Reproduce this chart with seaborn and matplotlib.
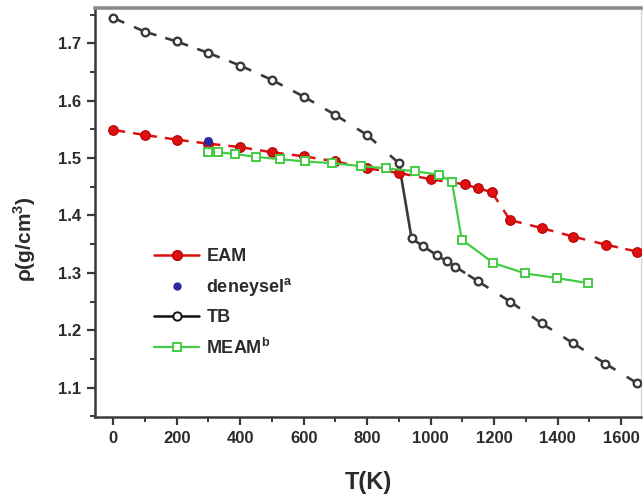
import numpy as np
import pandas as pd
import seaborn as sns
import matplotlib
matplotlib.use("Agg")
import matplotlib.pyplot as plt
from matplotlib.lines import Line2D
from matplotlib.ticker import MultipleLocator

# Density vs temperature for different models
tb_T = [0, 100, 200, 300, 400, 500, 600, 700, 800, 900,
        940, 977, 1019, 1051, 1077, 1150, 1250, 1350, 1450, 1550, 1650]
tb_rho = [1.744, 1.720, 1.703, 1.683, 1.661, 1.636, 1.607, 1.575, 1.540, 1.491,
          1.360, 1.346, 1.331, 1.320, 1.311, 1.285, 1.250, 1.212, 1.177, 1.142, 1.108]

eam_T = [0, 100, 200, 300, 400, 500, 600, 700, 800, 900, 1000,
         1109, 1150, 1192, 1250, 1350, 1450, 1553, 1650]
eam_rho = [1.549, 1.540, 1.532, 1.525, 1.519, 1.510, 1.503, 1.494, 1.482, 1.474, 1.463,
           1.454, 1.447, 1.441, 1.392, 1.378, 1.363, 1.349, 1.337]

meam_T = [300, 330, 385, 450, 525, 605, 690, 780, 860, 950, 1025, 1067,
          1098, 1198, 1298, 1397, 1497]
meam_rho = [1.511, 1.510, 1.507, 1.502, 1.498, 1.494, 1.491, 1.486, 1.482, 1.477, 1.471, 1.459,
            1.358, 1.317, 1.299, 1.291, 1.282]

exp_T = [300]
exp_rho = [1.529]

series_names = ["EAM", "deneysel", "TB", "MEAM"]
x_ticks = [0, 200, 400, 600, 800, 1000, 1200, 1400, 1600]
y_ticks = [1.1, 1.2, 1.3, 1.4, 1.5, 1.6, 1.7]

RED = "#e01010"
RED_EDGE = "#b00000"
GREEN = "#44cc44"
GRAY = "#3a3a3a"
BLUE = "#2a2aa0"
TEXT = "#2b2b2b"

sns.set_theme(style="ticks")
plt.rcParams["font.family"] = ["Liberation Sans", "DejaVu Sans"]
plt.rcParams["font.weight"] = "bold"
plt.rcParams["mathtext.fontset"] = "custom"
plt.rcParams["mathtext.rm"] = "Liberation Sans:bold"
plt.rcParams["mathtext.bf"] = "Liberation Sans:bold"

fig, ax = plt.subplots(figsize=(6.43, 4.94), dpi=100)
fig.subplots_adjust(left=0.148, right=0.997, bottom=0.156, top=0.984)
ax.set_xlim(-57, 1663)
ax.set_ylim(1.049, 1.7615)


def stub_lines(ax, xs, ys, color, lw, stub_px=12.0, full=()):
    """Short line pieces leaving each symbol toward its neighbours."""
    pts = ax.transData.transform(np.column_stack([xs, ys]))
    inv = ax.transData.inverted()
    for i in range(len(pts) - 1):
        p, q = pts[i], pts[i + 1]
        d = q - p
        L = np.hypot(*d)
        if i in full or L <= 2 * stub_px:
            pieces = [(p, q)]
        else:
            u = d / L
            pieces = [(p, p + u * stub_px), (q - u * stub_px, q)]
        for a, b in pieces:
            da, db = inv.transform(a), inv.transform(b)
            ax.plot([da[0], db[0]], [da[1], db[1]], color=color, lw=lw,
                    solid_capstyle="butt", zorder=2)


# TB: dark open circles; the melting drop is drawn as a full line
stub_lines(ax, tb_T, tb_rho, GRAY, 1.9, full=(9,))
tb_df = pd.DataFrame({"T": tb_T, "rho": tb_rho})
sns.scatterplot(data=tb_df, x="T", y="rho", ax=ax, marker="o", s=30,
                facecolor="white", edgecolor=GRAY, linewidth=1.7, zorder=3, legend=False)

# EAM: red filled circles
stub_lines(ax, eam_T, eam_rho, RED, 1.8)
eam_df = pd.DataFrame({"T": eam_T, "rho": eam_rho})
sns.scatterplot(data=eam_df, x="T", y="rho", ax=ax, marker="o", s=48,
                color=RED, edgecolor=RED_EDGE, linewidth=0.8, zorder=4, legend=False)

# MEAM: green open squares joined by a solid line
meam_df = pd.DataFrame({"T": meam_T, "rho": meam_rho})
sns.lineplot(data=meam_df, x="T", y="rho", ax=ax, color=GREEN, lw=1.6,
             marker="s", markersize=6.2, markerfacecolor="white",
             markeredgecolor=GREEN, markeredgewidth=1.4, zorder=5, legend=False)

# Experimental value
exp_df = pd.DataFrame({"T": exp_T, "rho": exp_rho})
sns.scatterplot(data=exp_df, x="T", y="rho", ax=ax, marker="o", s=36,
                color=BLUE, edgecolor=BLUE, zorder=6, legend=False)

# Axes styling
ax.set_xticks(x_ticks)
ax.set_yticks(y_ticks)
ax.set_yticklabels([f"{v:.1f}" for v in y_ticks])
ax.xaxis.set_minor_locator(MultipleLocator(100))
ax.yaxis.set_minor_locator(MultipleLocator(0.05))
ax.tick_params(axis="both", which="major", direction="out", length=6, width=1.6,
               color=GRAY, labelsize=12, labelcolor=TEXT, pad=4)
ax.tick_params(axis="both", which="minor", direction="out", length=3.5, width=1.4,
               color=GRAY)
for lab in ax.get_xticklabels() + ax.get_yticklabels():
    lab.set_fontweight("bold")

for side in ("left", "bottom"):
    ax.spines[side].set_color(GRAY)
    ax.spines[side].set_linewidth(1.8)
ax.spines["top"].set_color("#8a8a8a")
ax.spines["top"].set_linewidth(2.6)
ax.spines["right"].set_color("#d8d8d8")
ax.spines["right"].set_linewidth(1.0)

ax.set_xlabel("T(K)", fontsize=17, fontweight="bold", color=TEXT, labelpad=18)
ax.set_ylabel("ρ(g/cm$^{3}$)", fontsize=15, fontweight="bold", color=TEXT)
ax.yaxis.set_label_coords(-0.104, 0.435)

handles = [
    Line2D([], [], color=RED, lw=1.8, marker="o", markersize=7,
           markerfacecolor=RED, markeredgecolor=RED_EDGE),
    Line2D([], [], color=BLUE, lw=0, marker="o", markersize=5,
           markerfacecolor=BLUE, markeredgecolor=BLUE),
    Line2D([], [], color="#111111", lw=1.8, marker="o", markersize=6,
           markerfacecolor="white", markeredgecolor="#111111", markeredgewidth=1.4),
    Line2D([], [], color=GREEN, lw=1.6, marker="s", markersize=6,
           markerfacecolor="white", markeredgecolor=GREEN, markeredgewidth=1.4),
]
labels = [series_names[0], series_names[1] + r"$^{\mathrm{a}}$",
          series_names[2], series_names[3] + r"$^{\mathrm{b}}$"]
leg = ax.legend(handles, labels, loc="upper left", bbox_to_anchor=(0.108, 0.413),
                frameon=False, fontsize=13, handlelength=2.5, handletextpad=0.4,
                labelspacing=0.62, borderpad=0, borderaxespad=0)
for t in leg.get_texts():
    t.set_fontweight("bold")
    t.set_color(TEXT)

fig.savefig("out.png", dpi=100)
